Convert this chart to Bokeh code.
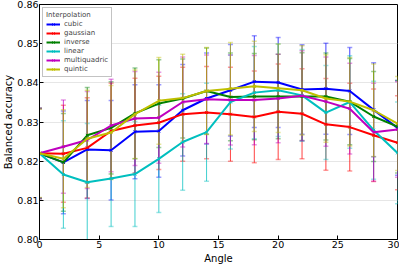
from bokeh.plotting import figure
from bokeh.models import (ColumnDataSource, Whisker, TeeHead, Legend, LegendItem,
                          FixedTicker, PrintfTickFormatter, Range1d)
from bokeh.embed import file_html
from bokeh.resources import INLINE

angles = [0, 2, 4, 6, 8, 10, 12, 14, 16, 18, 20, 22, 24, 26, 28, 30]

names = ["cubic", "gaussian", "inverse", "linear", "multiquadric", "quintic"]
colors = ["#0000ff", "#ff0000", "#008000", "#00bfbf", "#bf00bf", "#bfbf00"]

cubic = [0.8220, 0.8197, 0.8230, 0.8228, 0.8275, 0.8277, 0.8330, 0.8360,
         0.8381, 0.8403, 0.8401, 0.8383, 0.8385, 0.8379, 0.8331, 0.8285]
gaussian = [0.8220, 0.8219, 0.8234, 0.8277, 0.8291, 0.8298, 0.8320, 0.8324,
            0.8320, 0.8313, 0.8326, 0.8321, 0.8294, 0.8287, 0.8266, 0.8247]
inverse = [0.8220, 0.8197, 0.8266, 0.8285, 0.8322, 0.8347, 0.8360, 0.8379,
           0.8364, 0.8365, 0.8365, 0.8365, 0.8365, 0.8352, 0.8314, 0.8288]
linear = [0.8220, 0.8166, 0.8146, 0.8156, 0.8167, 0.8206, 0.8249, 0.8274,
          0.8351, 0.8375, 0.8381, 0.8368, 0.8324, 0.8351, 0.8279, 0.8221]
multiquadric = [0.8220, 0.8237, 0.8254, 0.8291, 0.8309, 0.8311, 0.8351, 0.8358,
                0.8356, 0.8356, 0.8360, 0.8367, 0.8352, 0.8334, 0.8274, 0.8281]
quintic = [0.8220, 0.8206, 0.8257, 0.8273, 0.8320, 0.8354, 0.8361, 0.8379,
           0.8385, 0.8391, 0.8386, 0.8381, 0.8360, 0.8352, 0.8330, 0.8296]

cubic_err = [0.0115, 0.0131, 0.0125, 0.0127, 0.0120, 0.0118, 0.0117, 0.0116,
             0.0117, 0.0117, 0.0115, 0.0114, 0.0116, 0.0111, 0.0120, 0.0121]
gaussian_err = [0.0116, 0.0124, 0.0128, 0.0122, 0.0121, 0.0119, 0.0120, 0.0118,
                0.0120, 0.0117, 0.0122, 0.0115, 0.0117, 0.0112, 0.0118, 0.0120]
inverse_err = [0.0114, 0.0125, 0.0122, 0.0118, 0.0116, 0.0112, 0.0101, 0.0110,
               0.0112, 0.0110, 0.0108, 0.0112, 0.0111, 0.0110, 0.0115, 0.0118]
linear_err = [0.0115, 0.0137, 0.0150, 0.0123, 0.0134, 0.0137, 0.0123, 0.0125,
              0.0120, 0.0118, 0.0118, 0.0117, 0.0120, 0.0118, 0.0125, 0.0130]
multiquadric_err = [0.0114, 0.0119, 0.0124, 0.0118, 0.0120, 0.0116, 0.0115, 0.0113,
                    0.0115, 0.0114, 0.0113, 0.0115, 0.0114, 0.0116, 0.0125, 0.0122]
quintic_err = [0.0113, 0.0125, 0.0124, 0.0120, 0.0113, 0.0111, 0.0112, 0.0111,
               0.0118, 0.0115, 0.0113, 0.0114, 0.0112, 0.0113, 0.0118, 0.0120]

series = [cubic, gaussian, inverse, linear, multiquadric, quintic]
errors = [cubic_err, gaussian_err, inverse_err, linear_err, multiquadric_err, quintic_err]

x_ticks = [0, 5, 10, 15, 20, 25, 30]
y_ticks = [0.80, 0.81, 0.82, 0.83, 0.84, 0.85, 0.86]

FONT = "DejaVu Sans"

p = figure(width=399, height=266, output_backend="svg", toolbar_location=None,
           x_range=Range1d(0, 30), y_range=Range1d(0.80, 0.86),
           min_border_left=0, min_border_right=2, min_border_top=4, min_border_bottom=0)

p.background_fill_color = "white"
p.border_fill_color = "white"
p.outline_line_color = "black"
p.outline_line_width = 1
p.xgrid.grid_line_color = None
p.ygrid.grid_line_color = "#e6e6e6"
p.ygrid.ticker = FixedTicker(ticks=y_ticks)

for ax in (p.xaxis[0], p.yaxis[0]):
    ax.major_tick_in = 4
    ax.major_tick_out = 0
    ax.minor_tick_line_color = None
    ax.axis_line_color = "black"
    ax.major_label_text_font = FONT
    ax.major_label_text_font_size = "9.5px"
    ax.major_label_text_color = "black"
    ax.axis_label_text_font = FONT
    ax.axis_label_text_font_size = "10px"
    ax.axis_label_text_font_style = "normal"
    ax.axis_label_text_color = "black"
    ax.major_label_standoff = 1
    ax.axis_label_standoff = 0

p.xaxis[0].axis_label_standoff = 2
p.xaxis[0].ticker = FixedTicker(ticks=x_ticks)
p.yaxis[0].ticker = FixedTicker(ticks=y_ticks)
p.yaxis[0].formatter = PrintfTickFormatter(format="%.2f")
p.xaxis[0].axis_label = "Angle"
p.yaxis[0].axis_label = "Balanced accuracy"

# errorbars first
for vals, errs, col in zip(series, errors, colors):
    src = ColumnDataSource(dict(x=angles,
                                upper=[v + e for v, e in zip(vals, errs)],
                                lower=[v - e for v, e in zip(vals, errs)]))
    w = Whisker(source=src, base="x", upper="upper", lower="lower",
                line_color=col, line_alpha=0.75, line_width=1,
                upper_head=TeeHead(size=5, line_color=col, line_alpha=0.4, line_width=1.5),
                lower_head=TeeHead(size=5, line_color=col, line_alpha=0.4, line_width=1.5))
    p.add_layout(w)

items = []
for name, vals, col in zip(names, series, colors):
    src = ColumnDataSource(dict(x=angles, y=vals))
    ln = p.line("x", "y", source=src, line_color=col, line_width=2)
    mk = p.scatter("x", "y", source=src, marker="x", size=4, line_color=col, line_width=1)
    items.append(LegendItem(label=name, renderers=[ln, mk]))

legend = Legend(items=items, location="top_left", title="Interpolation",
                title_text_font=FONT, title_text_font_size="7px", title_text_font_style="normal",
                title_standoff=1,
                label_text_font=FONT, label_text_font_size="7px",
                label_height=8, glyph_height=8, glyph_width=14, spacing=1,
                padding=3, margin=3, label_standoff=4,
                border_line_color="#888888", background_fill_color="white",
                background_fill_alpha=0.9)
p.add_layout(legend)

open("out.html", "w").write(file_html(p, INLINE))
